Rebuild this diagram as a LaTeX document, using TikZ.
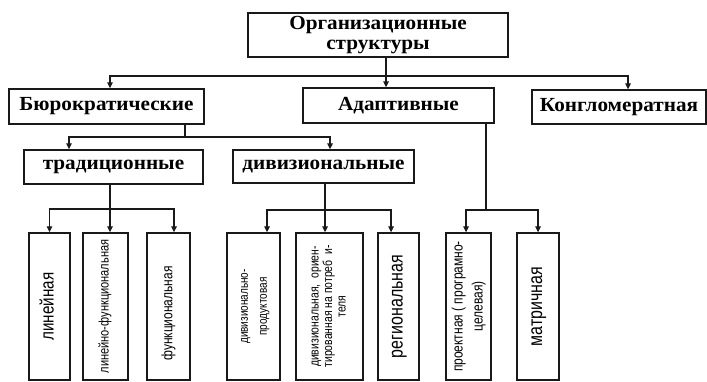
\documentclass[tikz,border=0pt]{standalone}
\usepackage{fontspec}
\setmainfont{Liberation Serif}
\newfontfamily\wideserif[FakeStretch=1.06]{Liberation Serif}
\newfontfamily\narrow[FakeStretch=0.8]{Liberation Sans}
\usetikzlibrary{arrows.meta}
\tikzset{
  box/.style={draw=black!90, line width=1.3pt, inner sep=0pt, fill=white},
  topbox/.style={box, font=\wideserif\bfseries\fontsize{20}{20}\selectfont, align=center},
  vbox/.style={box, minimum height=147pt},
  conn/.style={draw=black!90, line width=1.3pt},
  arr/.style={conn, -{Triangle[length=6pt,width=5.5pt]}},
}
\newcommand{\vtx}[3]{\rotatebox{90}{\narrow\fontsize{#1}{#2}\selectfont\begin{tabular}{@{}c@{}}#3\end{tabular}}}
\begin{document}
\begin{tikzpicture}[x=1pt,y=-1pt]
\useasboundingbox (0,0) rectangle (707,382);
\fill[white] (0,0) rectangle (707,382);
% top level
\node[topbox, minimum width=260pt, minimum height=44pt] (top) at (378,35) {Организационные\\структуры};
\node[topbox, minimum width=195pt, minimum height=35pt] (bur) at (106.5,106.5) {Бюрократические};
\node[topbox, minimum width=191pt, minimum height=35pt] (adapt) at (398.5,105.5) {Адаптивные};
\node[topbox, minimum width=174pt, minimum height=34pt] (kong) at (619,107) {Конгломератная};
\node[topbox, minimum width=179pt, minimum height=34pt] (trad) at (113.5,167) {традиционные};
\node[topbox, minimum width=181pt, minimum height=33pt] (div) at (323.5,166.5) {дивизиональные};
% bottom boxes
\node[vbox, minimum width=41pt] (lin) at (49.5,306.5) {\vtx{19}{20}{линейная}};
\node[vbox, minimum width=45pt] (linf) at (105.5,306.5) {\vtx{13.8}{15}{линейно-функциональная}};
\node[vbox, minimum width=43pt] (func) at (168.5,306.5) {\rotatebox{90}{\narrow\fontsize{15}{16}\selectfont функциональная\hspace*{14pt}}};
\node[vbox, minimum width=53pt] (divp) at (253.5,306.5) {\vtx{12.5}{19}{дивизионально-\\продуктовая}};
\node[vbox, minimum width=67pt] (divo) at (329.5,306.5) {\vtx{13}{13.5}{дивизиональная,\ \ ориен-\\тированная на потреб\ \ и-\\теля}};
\node[vbox, minimum width=41pt] (reg) at (398.5,306.5) {\vtx{20}{21}{региональная}};
\node[vbox, minimum width=45pt] (proj) at (468.5,306.5) {\vtx{15}{20}{проектная ( програмно-\\целевая)}};
\node[vbox, minimum width=42pt] (matr) at (538,306.5) {\vtx{20}{21}{матричная}};
% junctions
\coordinate (j1) at (386,76);
\coordinate (j2) at (185,137);
\coordinate (j3) at (110,209);
\coordinate (j4) at (325,210);
\coordinate (j5) at (486,210);
% connectors level 1
\draw[conn] (top.south -| j1) -- (j1);
\draw[arr] (j1) -- (adapt.north -| j1);
\draw[arr] (j1) -| ([xshift=3.5pt]bur.north);
\draw[arr] (j1) -| ([xshift=9pt]kong.north);
% level 2
\draw[conn] (bur.south -| j2) -- (j2);
\draw[arr] (j2) -| ([xshift=-44.5pt]trad.north);
\draw[arr] (j2) -| ([xshift=6.5pt]div.north);
% level 3 traditional
\draw[conn] (trad.south -| j3) -- (j3);
\draw[arr] (j3) -- (linf.north -| j3);
\draw[arr] (j3) -| (lin.north);
\draw[arr] (j3) -| ([xshift=5.5pt]func.north);
% level 3 divisional
\draw[conn] (div.south -| j4) -- (j4);
\draw[arr] (j4) -- (divo.north -| j4);
\draw[arr] (j4) -| ([xshift=13.5pt]divp.north);
\draw[arr] (j4) -| ([xshift=-7.5pt]reg.north);
% level 3 adaptive
\draw[conn] (adapt.south -| j5) -- (j5);
\draw[arr] (j5) -| ([xshift=-2.5pt]proj.north);
\draw[arr] (j5) -| (matr.north);
\end{tikzpicture}
\end{document}
